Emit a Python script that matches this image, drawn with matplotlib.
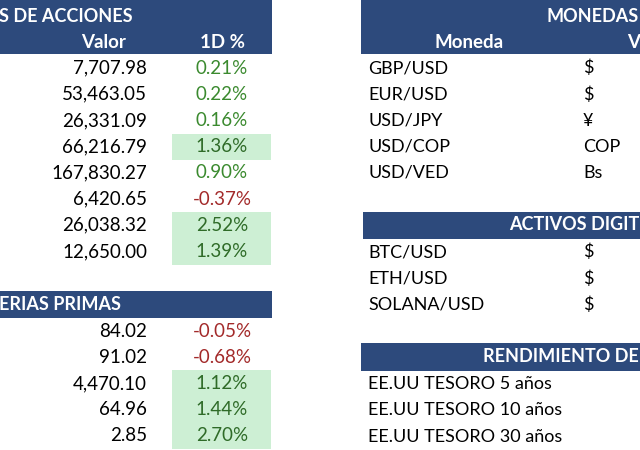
import matplotlib.pyplot as plt
from matplotlib.patches import Rectangle

plt.rcParams['font.family'] = ['Lato', 'DejaVu Sans']

# left block: stock indices
acciones_valor = [7707.98, 53463.05, 26331.09, 66216.79, 167830.27, 6420.65, 26038.32, 12650.00]
acciones_1d = [0.21, 0.22, 0.16, 1.36, 0.90, -0.37, 2.52, 1.39]

# commodities
materias_valor = [84.02, 91.02, 4470.10, 64.96, 2.85]
materias_1d = [-0.05, -0.68, 1.12, 1.44, 2.70]

# right block
monedas = ["GBP/USD", "EUR/USD", "USD/JPY", "USD/COP", "USD/VED"]
monedas_simbolo = ["$", "$", "¥", "COP", "Bs"]
activos = ["BTC/USD", "ETH/USD", "SOLANA/USD"]
activos_simbolo = ["$", "$", "$"]
bonos = ["EE.UU TESORO 5 años", "EE.UU TESORO 10 años", "EE.UU TESORO 30 años"]

HEADER = "#2D4A7C"
GREEN = "#3B8A2F"
GREEN_DARK = "#2F6B28"
RED = "#A32A2A"
FILL = "#CDEFD4"
ROW_H = 26.2
FS = 13.5
FS_TITLE = 13

fig = plt.figure(figsize=(6.4, 4.5), dpi=100)
ax = fig.add_axes([0, 0, 1, 1])
ax.set_xlim(0, 640)
ax.set_ylim(450, 0)
ax.axis("off")


def header(x0, x1, y0, y1):
    ax.add_patch(Rectangle((x0, y0), x1 - x0, y1 - y0, color=HEADER, lw=0))


def title(x, y, s, ha="left", size=FS_TITLE):
    ax.text(x, y, s, ha=ha, va="center", fontsize=size, color="white", fontweight="bold")


def pct_rows(values, changes, top):
    for i, (v, c) in enumerate(zip(values, changes)):
        yc = top + ROW_H * (i + 0.5)
        ax.text(147, yc, f"{v:,.2f}", ha="right", va="center", fontsize=FS, color="black")
        if c > 1.0:
            ax.add_patch(Rectangle((172, top + ROW_H * i), 99, ROW_H, color=FILL, lw=0))
            col = GREEN_DARK
        else:
            col = GREEN if c >= 0 else RED
        ax.text(222, yc, f"{c:.2f}%", ha="center", va="center", fontsize=FS, color=col)


def name_rows(names, symbols, top):
    for i, n in enumerate(names):
        yc = top + ROW_H * (i + 0.5)
        ax.text(368, yc, n, ha="left", va="center", fontsize=FS - 0.5, color="black")
        if symbols:
            ax.text(583, yc, symbols[i], ha="left", va="center", fontsize=FS - 0.5, color="black")


# left tables
header(0, 272, 0, 54)
title(-1, 16, "S DE ACCIONES")
title(104, 42, "Valor", ha="center", size=FS)
title(222, 42, "1D %", ha="center", size=FS)
pct_rows(acciones_valor, acciones_1d, 55)

header(0, 272, 291, 318)
title(-1, 304, "ERIAS PRIMAS")
pct_rows(materias_valor, materias_1d, 318)

# right tables
header(361, 640, 0, 54)
title(639, 16, "MONEDAS", ha="right")
title(469, 42, "Moneda", ha="center", size=FS)
title(627, 42, "V", size=FS)
name_rows(monedas, monedas_simbolo, 55)

header(363, 640, 212, 239)
title(639, 225, "ACTIVOS DIGIT", ha="right")
name_rows(activos, activos_simbolo, 239)

header(361, 640, 343, 371)
title(639, 357, "RENDIMIENTO DE", ha="right")
name_rows(bonos, None, 371)

fig.savefig("out.png", dpi=100)
